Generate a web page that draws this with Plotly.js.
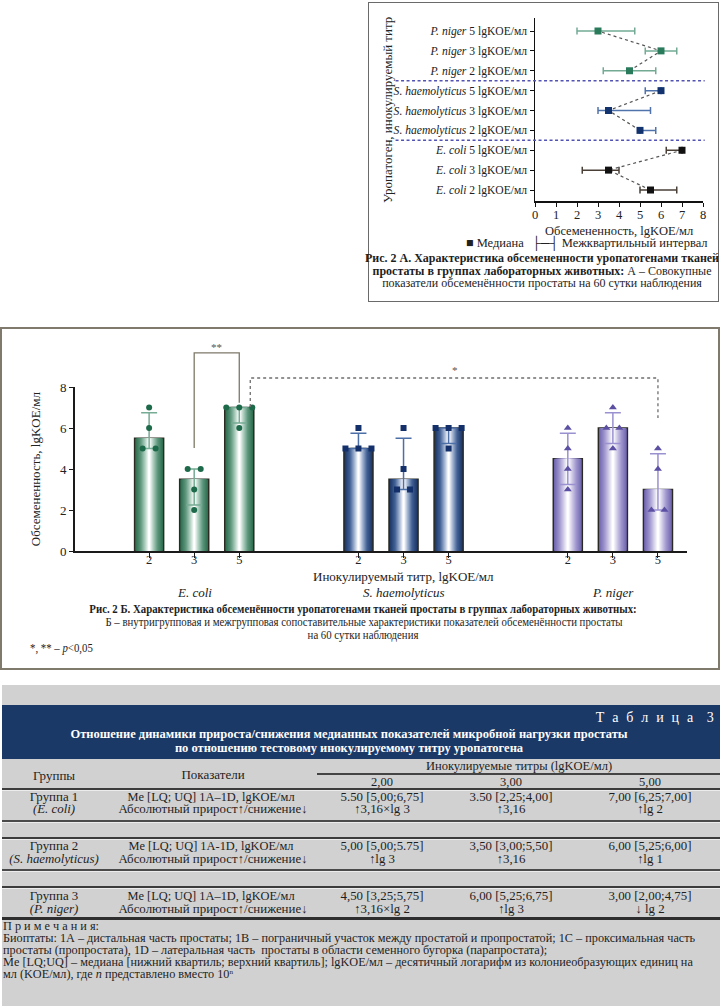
<!DOCTYPE html>
<html><head><meta charset="utf-8">
<script src="https://cdn.plot.ly/plotly-3.0.1.min.js"></script>
<style>
body{margin:0;width:720px;height:1006px;position:relative;overflow:hidden;background:#fff;font-family:'Liberation Serif','Times New Roman',serif;color:#1e1e1e}
.abs{position:absolute;white-space:nowrap;line-height:1}
</style></head><body>
<div class="abs" style="left:368px;top:2px;width:351px;height:300px;border:1px solid #6a6a6a;box-sizing:border-box"></div>
<div id="forest" class="abs" style="left:368px;top:0;width:352px;height:252px"></div>
<div class="abs" style="left:0;top:327px;width:720px;height:343px;border:2px solid #7f7a6c;box-sizing:border-box"></div>
<div id="bars" class="abs" style="left:0;top:328px;width:720px;height:341px"></div>
<div id="tbl" class="abs" style="left:2px;top:685px;width:718px;height:321px;background:#d1d1d1"></div>
<div id="txt"></div>
<script>
// ---------- DATA ----------
const pathogens = ['E. coli', 'S. haemolyticus', 'P. niger'];
const titers = ['2', '3', '5'];
// medians and quartiles (lgKOE/мл) per titer 2,3,5
const medEcoli = [5.5, 3.5, 7.0];
const q1Ecoli  = [5.0, 2.25, 6.25];
const q3Ecoli  = [6.75, 4.0, 7.0];
const medShaem = [5.0, 3.5, 6.0];
const q1Shaem  = [5.0, 3.0, 5.25];
const q3Shaem  = [5.75, 5.5, 6.0];
const medPniger = [4.5, 6.0, 3.0];
const q1Pniger  = [3.25, 5.25, 2.0];
const q3Pniger  = [5.75, 6.75, 4.75];
// individual animals
const ptsEcoli  = [[5, 5, 6, 7], [2, 3, 4, 4], [6, 7, 7, 7]];
const ptsShaem  = [[5, 5, 5, 6], [3, 3, 4, 6], [5, 6, 6, 6]];
const ptsPniger = [[3, 4, 5, 6], [5, 6, 6, 7], [2, 2, 4, 5]];
// significance brackets
const sigLabels = ['**', '*'];

// table
const tableGroups = ['Группа 1', 'Группа 2', 'Группа 3'];
const tableSpecies = ['(E. coli)', '(S. haemolyticus)', '(P. niger)'];
const tableMeLabel = ['Me [LQ; UQ] 1А–1D, lgKOE/мл', 'Me [LQ; UQ] 1А-1D, lgKOE/мл', 'Me [LQ; UQ] 1А–1D, lgKOE/мл'];
const tableChangeLabel = 'Абсолютный прирост↑/снижение↓';
const tableTiters = ['2,00', '3,00', '5,00'];
const tableMe = [
  ['5.50 [5,00;6,75]', '3.50 [2,25;4,00]', '7,00 [6,25;7,00]'],
  ['5,00 [5,00;5.75]', '3,50 [3,00;5,50]', '6,00 [5,25;6,00]'],
  ['4,50 [3,25;5,75]', '6,00 [5,25;6,75]', '3,00 [2,00;4,75]']];
const tableChange = [
  ['↑3,16×lg 3', '↑3,16', '↑lg 2'],
  ['↑lg 3', '↑3,16', '↑lg 1'],
  ['↑3,16×lg 2', '↑lg 3', '↓ lg 2']];

// ---------- STYLES ----------
const FONT = '"Liberation Serif", "Times New Roman", serif';
const groups = [
  {med: medEcoli, q1: q1Ecoli, q3: q3Ecoli, pts: ptsEcoli,
   stops: [[0, '#2b6a4c'], [0.4, '#5b957a'], [0.75, '#b3d2c3'], [1, '#ffffff']],
   err: '#76ab94', pt: '#1d6a4a', sym: 'circle'},
  {med: medShaem, q1: q1Shaem, q3: q3Shaem, pts: ptsShaem,
   stops: [[0, '#1b3464'], [0.4, '#3f5f93'], [0.75, '#a8b8d4'], [1, '#ffffff']],
   err: '#4d6fa8', pt: '#13306a', sym: 'square'},
  {med: medPniger, q1: q1Pniger, q3: q3Pniger, pts: ptsPniger,
   stops: [[0, '#6c61ad'], [0.4, '#9c93cc'], [0.75, '#d5d0ea'], [1, '#ffffff']],
   err: '#9a91d0', pt: '#5b4fa3', sym: 'triangle-up'}
];
// forest colours: ecoli black, shaem navy, pniger green
const forestMark = ['#111111', '#13336e', '#2a7a5c'];
const forestErr = ['#4a4038', '#5073ab', '#73aa94'];

function hex2rgb(h){return [1,3,5].map(i=>parseInt(h.substr(i,2),16));}
function gradColor(stops, t){
  for(let i=1;i<stops.length;i++){
    if(t<=stops[i][0]){
      const a=stops[i-1], b=stops[i];
      const f=(t-a[0])/(b[0]-a[0]);
      const ca=hex2rgb(a[1]), cb=hex2rgb(b[1]);
      return 'rgb('+ca.map((v,k)=>Math.round(v+(cb[k]-v)*f)).join(',')+')';
    }
  }
  return stops[stops.length-1][1];
}

// ---------- FOREST PLOT ----------
(function(){
  const traces = [];
  const tickvals = [], ticktext = [];
  pathogens.forEach((p, g) => {
    const ys = titers.map((t, i) => g*3 + i);
    titers.forEach((t, i) => { tickvals.push(g*3+i); ticktext.push('<i>'+p+'</i> '+t+' lgKOE/мл'); });
    const G = groups[g];
    traces.push({
      type: 'scatter', mode: 'lines+markers', x: G.med, y: ys,
      line: {dash: 'dot', color: '#555', width: 1.2},
      marker: {symbol: 'square', size: 7, color: forestMark[g]},
      error_x: {type: 'data', symmetric: false,
        array: G.q3.map((v,i)=>v-G.med[i]), arrayminus: G.med.map((v,i)=>v-G.q1[i]),
        color: forestErr[g], thickness: 1.5, width: 3.5},
      hoverinfo: 'skip'
    });
  });
  const PH = 183; // plot height px
  const py = px => (201 - px) / PH; // page px -> paper y
  const layout = {
    width: 352, height: 252, margin: {l: 167, r: 17, t: 18, b: 51},
    paper_bgcolor: 'rgba(0,0,0,0)', plot_bgcolor: 'rgba(0,0,0,0)',
    showlegend: false, font: {family: FONT, size: 12.5, color: '#222'},
    xaxis: {range: [0, 8], dtick: 1, showline: true, linecolor: '#111', linewidth: 1.5,
      ticks: 'outside', ticklen: 4, tickcolor: '#111', showgrid: false, zeroline: false,
      tickfont: {size: 12.5}, ticklabelstandoff: -3},
    yaxis: {range: [-0.553, 8.654], tickvals: tickvals, ticktext: ticktext, showline: true,
      linecolor: '#111', linewidth: 1.5, ticks: 'outside', ticklen: 4, tickcolor: '#111',
      showgrid: false, zeroline: false, tickfont: {size: 11.6}},
    shapes: [2.5, 5.5].map(v => ({type: 'line', xref: 'paper', yref: 'y', x0: -0.83, x1: 1.01, y0: v, y1: v,
      line: {color: '#5252b4', width: 1.5, dash: '3px,2.5px'}})),
    annotations: [
      {xref: 'paper', yref: 'paper', x: -0.878, y: 0.5, xanchor: 'center', yanchor: 'middle', textangle: -90, showarrow: false,
       text: 'Уропатоген, инокулируемый титр', font: {size: 13}},
      {xref: 'paper', yref: 'paper', x: 0.5, y: py(230.5), xanchor: 'center', yanchor: 'middle', showarrow: false,
       borderpad: 0, text: 'Обсемененность, lgKOE/мл', font: {size: 12.5}},
      {xref: 'paper', yref: 'paper', x: -0.24, y: py(243), xanchor: 'center', yanchor: 'middle', showarrow: false,
       borderpad: 0, text: '■ Медиана', font: {size: 12.5}},
      {xref: 'paper', yref: 'paper', x: 0.506, y: py(243), xanchor: 'center', yanchor: 'middle', showarrow: false,
       borderpad: 0, text: '├─┤ Межквартильный интервал', font: {size: 12.5}}
    ]
  };
  Plotly.newPlot('forest', traces, layout, {staticPlot: true});
})();

// ---------- BAR CHART ----------
(function(){
  const SLOT = 45;                 // px per titer slot
  const GSTEP = 209 / SLOT;        // group spacing in slot units
  const BARW = 29 / SLOT;
  const JIT = 13 / SLOT;
  const xpos = (g, t) => g*GSTEP + t;
  const NL = 15;
  const barTraces = [], errTraces = [], ptTraces = [];
  const tickvals = [], ticktext = [];
  groups.forEach((G, g) => {
    const xs = titers.map((t, i) => xpos(g, i));
    titers.forEach((t, i) => { tickvals.push(xpos(g, i)); ticktext.push(t); });
    for (let k = 0; k < NL; k++) {
      const frac = 1 - k/NL;
      barTraces.push({type: 'bar', x: xs, y: G.med, width: BARW*frac,
        marker: {color: gradColor(G.stops, k/(NL-1)),
          line: k === 0 ? {color: '#2a2a22', width: 1.5} : {width: 0}},
        hoverinfo: 'skip'});
    }
    errTraces.push({type: 'scatter', mode: 'markers', x: xs, y: G.med,
      marker: {size: 1, opacity: 0},
      error_y: {type: 'data', symmetric: false,
        array: G.q3.map((v,i)=>v-G.med[i]), arrayminus: G.med.map((v,i)=>v-G.q1[i]),
        color: G.err, thickness: 1.5, width: 8}, hoverinfo: 'skip'});
    const px = [], py = [];
    G.pts.forEach((arr, i) => {
      const counts = {};
      arr.forEach(v => counts[v] = (counts[v]||0) + 1);
      const seen = {};
      arr.forEach(v => {
        const n = counts[v], k = seen[v] = (seen[v] === undefined ? 0 : seen[v] + 1);
        px.push(xpos(g, i) + (k - (n-1)/2) * JIT); py.push(v);
      });
    });
    ptTraces.push({type: 'scatter', mode: 'markers', x: px, y: py, cliponaxis: false,
      marker: {symbol: G.sym, size: G.sym === 'triangle-up' ? 7 : 6, color: G.pt}, hoverinfo: 'skip'});
  });
  const P = v => v / 8;
  const bx = xpos(0, 1), bx2 = xpos(0, 2), dx1 = xpos(0, 2) + 0.244, dx2 = xpos(2, 2);
  const layout = {
    width: 720, height: 341, margin: {l: 75, r: 33, t: 59, b: 118},
    paper_bgcolor: 'rgba(0,0,0,0)', plot_bgcolor: 'rgba(0,0,0,0)',
    barmode: 'overlay', showlegend: false,
    font: {family: FONT, size: 13, color: '#222'},
    xaxis: {range: [-74/SLOT, xpos(2, 2) + BARW], tickvals: tickvals, ticktext: ticktext,
      showline: true, linecolor: '#1a1a1a', linewidth: 2, ticks: 'outside', ticklen: 5,
      tickcolor: '#1a1a1a', showgrid: false, zeroline: false, ticklabelstandoff: -9,
      tickfont: {size: 12.5}},
    yaxis: {range: [0, 8], dtick: 2, showline: true, linecolor: '#1a1a1a', linewidth: 2,
      ticks: 'outside', ticklen: 4, tickcolor: '#1a1a1a', showgrid: false, zeroline: false},
    shapes: [
      {type: 'path', xref: 'x', yref: 'paper',
       path: `M${bx},${P(5.02)} L${bx},${P(9.66)} L${bx2},${P(9.66)} L${bx2},${P(7.23)}`,
       line: {color: '#7d7868', width: 1.3}},
      {type: 'path', xref: 'x', yref: 'paper',
       path: `M${dx1},${P(7.02)} L${dx1},${P(8.44)} L${dx2},${P(8.44)} L${dx2},${P(6.49)}`,
       line: {color: '#6f6f6f', width: 1.3, dash: 'dot'}}
    ],
    annotations: [
      {xref: 'x', yref: 'paper', x: (bx+bx2)/2, y: P(9.95), xanchor: 'center', yanchor: 'middle', text: sigLabels[0], showarrow: false, font: {size: 11, color: '#555'}},
      {xref: 'x', yref: 'paper', x: xpos(1, 2) + 0.15, y: P(8.83), xanchor: 'center', yanchor: 'middle', text: sigLabels[1], showarrow: false, font: {size: 11, color: '#555'}},
      {xref: 'paper', yref: 'paper', x: -0.065, y: 0.5, xanchor: 'center', yanchor: 'middle', textangle: -90, showarrow: false,
       text: 'Обсемененность, lgKOE/мл', font: {size: 13}},
      {xref: 'x', yref: 'paper', x: xpos(1, 1), y: -25/164, xanchor: 'center', yanchor: 'middle', showarrow: false,
       text: 'Инокулируемый титр, lgKOE/мл', font: {size: 13}}
    ].concat(pathogens.map((p, g) => ({xref: 'x', yref: 'paper', x: xpos(g, 1), y: -41/164,
       xanchor: 'center', yanchor: 'middle', showarrow: false, text: '<i>' + p + '</i>', font: {size: 13}})))
  };
  Plotly.newPlot('bars', barTraces.concat(errTraces, ptTraces), layout, {staticPlot: true});
})();

// ---------- TEXT / TABLE ----------
(function(){
  const host = document.getElementById('txt');
  function t(x, y, html, st, anchor){
    const d = document.createElement('div');
    d.className = 'abs';
    d.innerHTML = html;
    d.style.left = x + 'px'; d.style.top = y + 'px';
    const tr = anchor === 'l' ? 'translate(0,-50%)' : anchor === 'r' ? 'translate(-100%,-50%)' : 'translate(-50%,-50%)';
    d.style.transform = tr + (st && st.sx ? ' scaleX(' + st.sx + ')' : '');
    d.style.transformOrigin = anchor === 'l' ? 'left center' : anchor === 'r' ? 'right center' : 'center center';
    d.style.fontSize = (st && st.fs || 12) + 'px';
    if (st && st.css) d.style.cssText += st.css;
    host.appendChild(d);
    return d;
  }
  function line(x, y, w, h, c){
    const d = document.createElement('div');
    d.className = 'abs';
    d.style.cssText += `left:${x}px;top:${y}px;width:${w}px;height:${h}px;background:${c}`;
    host.appendChild(d);
  }
  // forest caption
  t(542, 258, '<b>Рис. 2 А. Характеристика обсемененности уропатогенами тканей</b>', {fs: 12});
  t(542, 271, '<b>простаты в группах лабораторных животных:</b> А – Совокупные', {fs: 12});
  t(542, 283, 'показатели обсеменённости простаты на 60 сутки наблюдения', {fs: 12});
  // bar caption
  t(363, 609, '<b>Рис. 2 Б. Характеристика обсеменённости уропатогенами тканей простаты в группах лабораторных животных:</b>', {fs: 12, sx: 0.9});
  t(364, 622, 'Б – внутригрупповая и межгрупповая сопоставительные характеристики показателей обсеменённости простаты', {fs: 12, sx: 0.9});
  t(363, 635, 'на 60 сутки наблюдения', {fs: 12, sx: 0.9});
  t(30, 648, '*, ** – <i>p</i>&lt;0,05', {fs: 12, sx: 0.9}, 'l');

  // table header band
  line(2, 705, 718, 54, '#1b3966');
  const W = 'color:#fff;';
  t(716, 718, 'Т а б л и ц а&nbsp; 3', {fs: 14, css: W + 'letter-spacing:2.2px'}, 'r');
  t(349, 733, '<b>Отношение динамики прироста/снижения медианных показателей микробной нагрузки простаты</b>', {fs: 13, sx: 0.96, css: W});
  t(349, 747, '<b>по отношению тестовому инокулируемому титру уропатогена</b>', {fs: 13, sx: 0.96, css: W});
  // column headers
  t(54, 775, 'Группы', {fs: 13});
  t(213, 774, 'Показатели', {fs: 13});
  t(519, 766, 'Инокулируемые титры (lgKOE/мл)', {fs: 12.5});
  line(317, 773, 403, 1.5, '#444');
  const colX = [382, 511, 650];
  tableTiters.forEach((s, i) => t(colX[i], 782, s, {fs: 12.5}));
  // rules
  line(2, 788, 718, 2, '#3c3c3c'); line(2, 790, 718, 1, '#ececec');
  line(2, 820, 718, 1.5, '#4a4a4a'); line(2, 821.5, 718, 1, '#ececec');
  line(2, 837, 718, 2, '#3c3c3c'); line(2, 839, 718, 1, '#ececec');
  line(2, 869, 718, 1.5, '#4a4a4a'); line(2, 870.5, 718, 1, '#ececec');
  line(2, 886, 718, 2, '#3c3c3c'); line(2, 888, 718, 1, '#ececec');
  line(2, 917, 718, 3, '#2e2e2e');
  const rowY = [[796.5, 809], [846, 858.5], [896, 908.5]];
  tableGroups.forEach((g, r) => {
    t(54, rowY[r][0], g, {fs: 12.4, sx: 1.04});
    t(54, rowY[r][1], '<i>' + tableSpecies[r] + '</i>', {fs: 12.4, sx: 1.04});
    t(211, rowY[r][0], tableMeLabel[r], {fs: 12.4});
    t(213, rowY[r][1], tableChangeLabel, {fs: 12.4, sx: 1.04});
    tableMe[r].forEach((s, i) => t(colX[i], rowY[r][0], s, {fs: 12.4, sx: 1.04}));
    tableChange[r].forEach((s, i) => t(colX[i], rowY[r][1], s, {fs: 12.4, sx: 1.04}));
  });
  // notes
  const notes = [
    'П р и м е ч а н и я:',
    'Биоптаты: 1А – дистальная часть простаты; 1В – пограничный участок между простатой и пропростатой; 1С – проксимальная часть',
    'простаты (пропростата), 1D – латеральная часть&nbsp; простаты в области семенного бугорка (парапростата);',
    'Me [LQ;UQ] – медиана [нижний квартиль; верхний квартиль]; lgKOE/мл – десятичный логарифм из колониеобразующих единиц на',
    'мл (KOE/мл), где <i>n</i> представлено вместо 10<span style="position:relative;top:-4px;font-size:7px">n</span>'];
  const noteY = [926, 938, 950, 962, 974];
  notes.forEach((s, i) => t(3, noteY[i], s, {fs: 12, sx: 1.02}, 'l'));
})();
</script>
</body></html>
